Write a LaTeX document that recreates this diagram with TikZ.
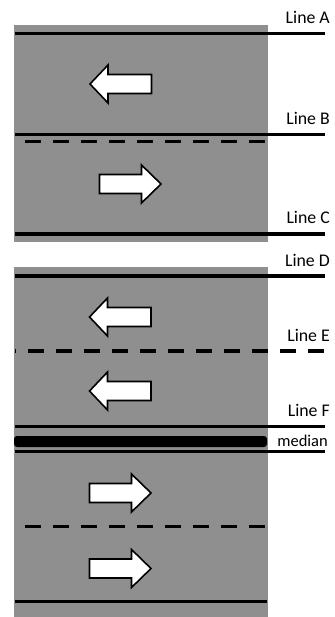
\documentclass[tikz,border=0pt]{standalone}
\usepackage{fontspec}
\setmainfont{Carlito}
\definecolor{roadgray}{RGB}{143,143,143}
\begin{document}
\begin{tikzpicture}[x=1pt,y=-1pt,
  road/.style={fill=roadgray,draw=none},
  solidline/.style={line width=3.2pt},
  thinline/.style={line width=2.7pt},
  dashline/.style={line width=3.2pt,dash pattern=on 16pt off 12pt},
  lbl/.style={anchor=base east,inner sep=0pt,font=\fontsize{17.8}{20}\selectfont},
  arrowshape/.style={fill=white,draw=black,line width=1.6pt,line join=miter}]
\useasboundingbox (0,0) rectangle (334,617);
% road areas
\fill[road] (14,25) rectangle (268,242);
\fill[road] (14,267) rectangle (268,617);
% top road lines
\draw[solidline] (15,33.3) -- (325,33.3);
\draw[solidline] (15,134.3) -- (325,134.3);
\draw[dashline] (25,141.7) -- (267,141.7);
\draw[solidline] (15,234) -- (325,234);
% bottom road lines
\draw[solidline] (15,276) -- (325,276);
\draw[line width=3.2pt] (15,351) -- (16,351);
\draw[dashline] (28,351) -- (325,351);
\draw[thinline] (15,426.7) -- (325,426.7);
\fill[black,rounded corners=3pt] (14,436) rectangle (267,447);
\draw[thinline] (15,451.5) -- (325,451.5);
\draw[dashline] (25,526.7) -- (267,526.7);
\draw[solidline] (15,601.7) -- (267,601.7);
% labels
\node[lbl] (la) at (330,23.3) {Line A};
\node[lbl] (lb) at (330,124.3) {Line B};
\node[lbl] (lc) at (330,224) {Line C};
\node[lbl] (ld) at (330,266) {Line D};
\node[lbl] (le) at (330,341) {Line E};
\node[lbl] (lf) at (330,416.7) {Line F};
\node[lbl,font=\fontsize{16.5}{19}\selectfont] (lm) at (328,446.5) {median};
% arrows (left pointing)
\foreach \tx/\cy in {90/84, 89.5/317, 89.5/391}{
  \draw[arrowshape] (\tx,\cy) -- (\tx+18,\cy-19) -- (\tx+18,\cy-9.5) -- (\tx+61.5,\cy-9.5)
    -- (\tx+61.5,\cy+9.5) -- (\tx+18,\cy+9.5) -- (\tx+18,\cy+19) -- cycle;
}
% arrows (right pointing)
\foreach \tl/\cy in {99.5/184, 89.5/493, 89.5/568.5}{
  \draw[arrowshape] (\tl+61.5,\cy) -- (\tl+42,\cy-19) -- (\tl+42,\cy-9.5) -- (\tl,\cy-9.5)
    -- (\tl,\cy+9.5) -- (\tl+42,\cy+9.5) -- (\tl+42,\cy+19) -- cycle;
}
\end{tikzpicture}
\end{document}
